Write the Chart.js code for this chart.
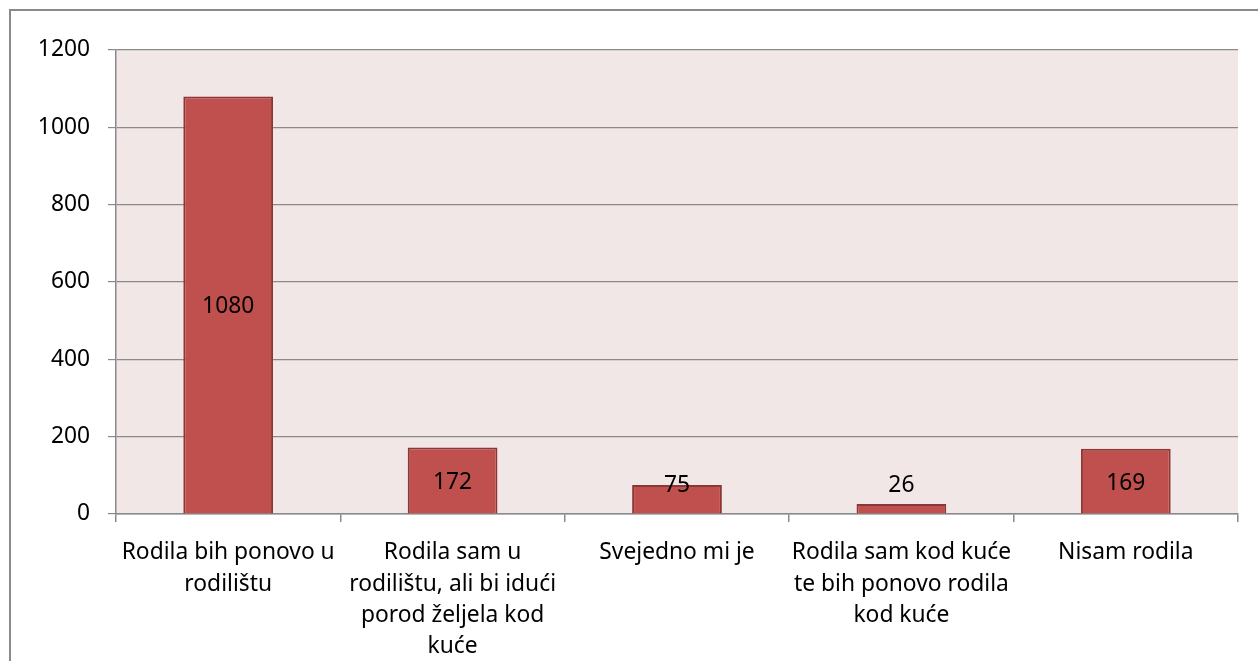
<!DOCTYPE html>
<html>
<head>
<meta charset="utf-8">
<script src="https://cdn.jsdelivr.net/npm/chart.js@4/dist/chart.umd.min.js"></script>
<style>
  html, body { margin: 0; padding: 0; background: #ffffff; overflow: hidden; }
  #frame { position: absolute; left: 9px; top: 9px; width: 1300px; height: 700px; border: 2px solid #8a8a8a; box-sizing: border-box; }
  #wrap { position: absolute; left: 0; top: 0; width: 1258px; height: 661px; }
</style>
</head>
<body>
<div id="frame"></div>
<div id="wrap"><canvas id="c" width="1258" height="661"></canvas></div>
<script>
const categories = [
  ["Rodila bih ponovo u", "rodilištu"],
  ["Rodila sam u", "rodilištu, ali bi idući", "porod željela kod", "kuće"],
  "Svejedno mi je",
  ["Rodila sam kod kuće", "te bih ponovo rodila", "kod kuće"],
  "Nisam rodila"
];
const values = [1080, 172, 75, 26, 169];
const yTicks = [0, 200, 400, 600, 800, 1000, 1200];

const FONT = "'Noto Sans', 'Open Sans', sans-serif";
const FSIZE = 22.8;

const bgPlugin = {
  id: 'plotBg',
  beforeDraw(chart) {
    const a = chart.chartArea, ctx = chart.ctx;
    ctx.save();
    ctx.fillStyle = '#F2E7E7';
    ctx.fillRect(a.left, a.top, a.right - a.left, a.bottom - a.top);
    ctx.restore();
  }
};

const labelPlugin = {
  id: 'valLabels',
  afterDatasetsDraw(chart) {
    const ctx = chart.ctx;
    const meta = chart.getDatasetMeta(0);
    const zeroY = chart.scales.y.getPixelForValue(0);
    ctx.save();
    ctx.font = FSIZE + "px " + FONT;
    ctx.fillStyle = '#000';
    ctx.textAlign = 'center';
    ctx.textBaseline = 'middle';
    meta.data.forEach((bar, i) => {
      const center = (bar.y + bar.base) / 2;
      const y = Math.min(center + 2, zeroY - 28);
      ctx.fillText(String(values[i]), bar.x, y);
    });
    ctx.restore();
  }
};

new Chart(document.getElementById('c'), {
  type: 'bar',
  data: {
    labels: categories,
    datasets: [{
      data: values,
      backgroundColor: '#C0504D',
      borderColor: '#8B3735',
      borderWidth: 2,
      categoryPercentage: 0.4,
      barPercentage: 1.0
    }]
  },
  options: {
    responsive: false,
    animation: false,
    devicePixelRatio: 1,
    layout: { padding: { top: 50, right: 20, left: 0, bottom: 0 } },
    plugins: { legend: { display: false }, tooltip: { enabled: false } },
    scales: {
      x: {
        grid: { offset: true, drawOnChartArea: false, tickLength: 8, color: '#8a8a8a', lineWidth: 1.5 },
        border: { color: '#8a8a8a', width: 1.5 },
        ticks: { color: '#000', font: { family: FONT, size: FSIZE, lineHeight: 31.4 / FSIZE }, padding: 15, maxRotation: 0, autoSkip: false },
        afterFit(scale) { scale.height = 147; }
      },
      y: {
        min: 0, max: 1200,
        afterBuildTicks(scale) { scale.ticks = yTicks.map(v => ({ value: v })); },
        grid: { color: '#8a8a8a', lineWidth: 1.2, tickLength: 8 },
        border: { color: '#8a8a8a', width: 1.5 },
        ticks: { color: '#000', font: { family: FONT, size: FSIZE }, padding: 18, callback: v => String(v) },
        afterFit(scale) { scale.width = 116; }
      }
    }
  },
  plugins: [bgPlugin, labelPlugin]
});
</script>
</body>
</html>
